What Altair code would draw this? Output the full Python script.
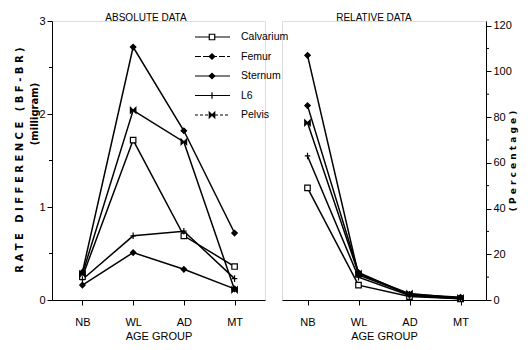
import altair as alt
import pandas as pd

categories = ["NB", "WL", "AD", "MT"]
series = ["Calvarium", "Femur", "Sternum", "L6", "Pelvis"]

abs_calvarium = [0.25, 1.72, 0.69, 0.36]
abs_femur = [0.16, 0.51, 0.33, 0.12]
abs_sternum = [0.30, 2.72, 1.82, 0.72]
abs_l6 = [0.22, 0.69, 0.74, 0.23]
abs_pelvis = [0.28, 2.04, 1.70, 0.11]

rel_calvarium = [49, 6.5, 1.5, 0.5]
rel_femur = [107, 11, 2.5, 1.2]
rel_sternum = [85, 12, 2.2, 1.0]
rel_l6 = [63, 10, 2.0, 0.6]
rel_pelvis = [77.5, 11.5, 2.8, 0.8]

abs_ticks = [0, 1, 2, 3]
abs_minor = [0.5, 1.5, 2.5]
rel_ticks = [0, 20, 40, 60, 80, 100, 120]
rel_minor = [10, 30, 50, 70, 90, 110]

FONT = "Liberation Sans, Arial, sans-serif"
BOLD = "DejaVu Sans"

abs_vals = [abs_calvarium, abs_femur, abs_sternum, abs_l6, abs_pelvis]
rel_vals = [rel_calvarium, rel_femur, rel_sternum, rel_l6, rel_pelvis]

def long(vals):
    rows = []
    for s, v in zip(series, vals):
        for c, x in zip(categories, v):
            rows.append({"series": s, "cat": c, "value": x})
    return pd.DataFrame(rows)

df_abs = long(abs_vals)
df_rel = long(rel_vals)

plus = "M-1,0L1,0M0,-1.2L0,1.2"
bowtie = "M-1,-1L1,1L1,-1L-1,1Z"
shape_scale = alt.Scale(domain=series, range=["square", "diamond", "diamond", plus, bowtie])
fill_scale = alt.Scale(domain=series, range=["white", "black", "black", "black", "black"])
size_scale = alt.Scale(domain=series, range=[30, 30, 30, 45, 30])

W1, W2, H = 213, 204, 279


def panel(df, domain, ticks, minor, width, orient, pad):
    x = alt.X("cat:N", sort=categories,
              scale=alt.Scale(type="point", padding=pad),
              axis=alt.Axis(title="AGE GROUP", labelAngle=0, tickSize=5,
                            labelPadding=11, titlePadding=3, labelFontSize=11,
                            titleFontSize=11, titleFontWeight="normal",
                            labelFont=FONT, titleFont=FONT, grid=False,
                            domainColor="black", tickColor="black",
                            labelColor="black", titleColor="black"))
    y = alt.Y("value:Q", scale=alt.Scale(domain=domain, nice=False, zero=True),
              axis=alt.Axis(values=ticks, orient=orient, tickSize=5, title=None,
                            grid=False, labelFontSize=11, labelFont=FONT,
                            domainColor="black", tickColor="black",
                            labelColor="black", labelPadding=2))
    base = alt.Chart(df)
    lines = base.mark_line(color="black", strokeWidth=1.5).encode(
        x=x, y=y, detail="series:N")
    pts = base.mark_point(stroke="black", strokeWidth=1.2, opacity=1, filled=False).encode(
        x=x, y=y,
        shape=alt.Shape("series:N", scale=shape_scale, legend=None),
        fill=alt.Fill("series:N", scale=fill_scale, legend=None),
        size=alt.Size("series:N", scale=size_scale, legend=None))
    if orient == "left":
        mx, mx2 = -3, 0
    else:
        mx, mx2 = width, width + 3
    mt = alt.Chart(pd.DataFrame({"value": minor})).mark_rule(color="black").encode(
        y=y, x=alt.value(mx), x2=alt.value(mx2))
    return lines, pts, mt


l_lines, l_pts, l_mt = panel(df_abs, [0, 3], abs_ticks, abs_minor, W1, "left", 0.6)
r_lines, r_pts, r_mt = panel(df_rel, [0, 122], rel_ticks, rel_minor, W2, "right", 0.5)

def text(t, x, y, angle=0, font=FONT, size=11, weight="normal"):
    return alt.Chart(pd.DataFrame({"t": [t]})).mark_text(
        font=font, fontSize=size, fontWeight=weight, angle=angle, color="black",
        align="center", baseline="middle").encode(
        text="t:N", x=alt.value(x), y=alt.value(y))

NB = "\u00a0"
def spaced(s):
    words = s.split(" ")
    return (NB * 3).join(NB.join(list(w)) for w in words)

# legend (drawn in the right panel's frame, reaching back over the left panel)
LX = -87
leg = pd.DataFrame({"series": series, "row": list(range(len(series)))})
leg_y = alt.Y("row:Q", scale=alt.Scale(domain=[0, 4], range=[16, 94]), axis=None)
dash_scale = alt.Scale(domain=series, range=[[1, 0], [6, 2], [1, 0], [1, 0], [3, 2]])
leg_rule = alt.Chart(leg).mark_rule(color="black", strokeWidth=1.2).encode(
    y=leg_y, x=alt.value(LX), x2=alt.value(LX + 35),
    strokeDash=alt.StrokeDash("series:N", scale=dash_scale, legend=None))
leg_pt = alt.Chart(leg).mark_point(stroke="black", strokeWidth=1.2, opacity=1).encode(
    y=leg_y, x=alt.value(LX + 17),
    shape=alt.Shape("series:N", scale=shape_scale, legend=None),
    fill=alt.Fill("series:N", scale=fill_scale, legend=None),
    size=alt.Size("series:N", scale=size_scale, legend=None))
leg_txt = alt.Chart(leg).mark_text(font=FONT, fontSize=10.5, align="left",
                                   baseline="middle", color="black").encode(
    y=leg_y, x=alt.value(LX + 46), text="series:N")

left = alt.layer(
    l_lines, l_pts, l_mt,
    text("ABSOLUTE DATA", 94, -3, size=10),
    text(spaced("RATE DIFFERENCE (BF-BR)"), -32, 139, 270, BOLD, 10, "bold"),
    text("(milligram)", -17, 93, 270, BOLD, 10, "bold"),
).properties(width=W1, height=H)

right = alt.layer(
    alt.layer(r_lines, r_pts, r_mt,
              text("RELATIVE DATA", 92, -3, size=10),
              text(spaced("(Percentage)"), 231, 140, 270, BOLD, 9, "bold")),
    leg_rule, leg_pt, leg_txt
).resolve_scale(y="independent").properties(width=W2, height=H)

chart = alt.hconcat(left, right, spacing=17, bounds="flush").properties(
    padding={"left": 6, "top": 4, "right": 0, "bottom": 0}
).configure_view(stroke=None, fill="transparent").configure(background="white")

chart.save("out.html", embed_options={"renderer": "svg", "actions": False})
